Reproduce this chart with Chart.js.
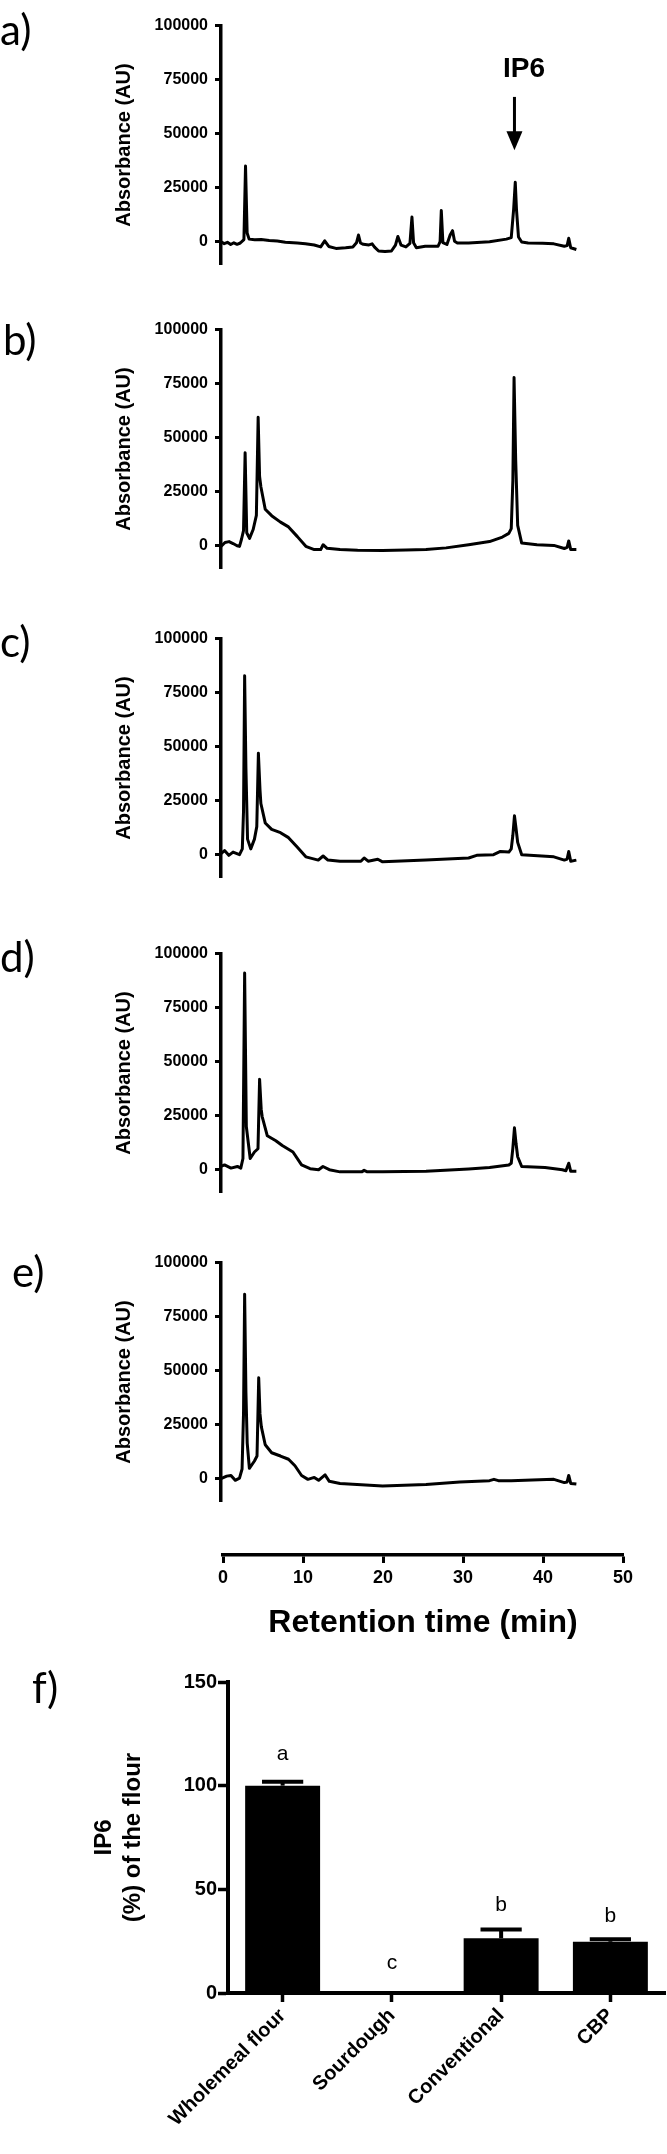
<!DOCTYPE html>
<html>
<head>
<meta charset="utf-8">
<script src="https://cdn.jsdelivr.net/npm/chart.js"></script>
<style>
  body { margin: 0; background: #fff; }
  #figure { position: relative; width: 667px; height: 2154px; background: #fff; }
  #figure canvas { position: absolute; left: 0; }
</style>
</head>
<body>
<div id="figure"></div>
<script>
// chromatograms: [retention time (min), absorbance (AU)]
const traceA = [
  [0, 0], [0.4, -900], [0.8, -300], [1.2, -1300], [1.6, -500], [2.0, -1200], [2.4, -600],
  [2.85, 1000], [3.05, 35000], [3.25, 4000], [3.5, 1200], [4.2, 900], [5.0, 1000], [6.0, 600],
  [7.0, 300], [8.0, -200], [9.5, -600], [10.5, -900], [11.6, -1500], [12.4, -2400], [12.9, 400],
  [13.4, -2200], [14.3, -3100], [15.5, -2800], [16.4, -2400], [16.85, -500], [17.1, 3100],
  [17.35, -600], [17.7, -1200], [18.4, -1500], [18.8, -1000], [19.1, -2500], [19.6, -4300],
  [20.4, -4500], [21.2, -4300], [21.7, -1600], [22.0, 2400], [22.4, -1600], [23.0, -2400],
  [23.5, -800], [23.75, 11400], [23.95, -500], [24.3, -2800], [25.4, -2100], [27.0, -2100],
  [27.25, 0], [27.4, 14400], [27.6, -400], [28.1, -1300], [28.5, 3100], [28.8, 5100],
  [29.05, 200], [29.4, -600], [30.8, -600], [33.4, 0], [35.5, 1200], [36.1, 1900],
  [36.4, 15100], [36.6, 27500], [36.75, 15000], [37.0, 2200], [37.4, -150], [38.2, -600],
  [40.0, -700], [41.4, -1000], [42.7, -2100], [43.05, -1800], [43.25, 1600], [43.5, -2800],
  [44.2, -3600]
];

const traceB = [
  [0, -300], [0.5, 1500], [1.0, 1900], [1.5, 1000], [2.0, 0], [2.3, -300], [2.55, 3000],
  [2.8, 7000], [3.0, 43000], [3.2, 6000], [3.55, 3400], [4.0, 7500], [4.4, 14000],
  [4.62, 59400], [4.8, 32000], [4.96, 27300], [5.5, 16900], [6.3, 13900], [7.4, 10900],
  [8.4, 8700], [9.5, 4200], [10.55, -300], [11.6, -1800], [12.4, -1800], [12.7, 450],
  [13.2, -1200], [14.8, -1800], [17.0, -2100], [20.1, -2200], [23.0, -2000], [25.5, -1800],
  [28.0, -1000], [30.8, 450], [33.4, 1900], [35.0, 4000], [35.8, 5700], [36.1, 7900],
  [36.3, 30000], [36.45, 77800], [36.65, 40000], [36.9, 9400], [37.4, 1200], [39.3, 450],
  [41.4, 150], [42.7, -1300], [43.05, -800], [43.25, 2200], [43.5, -1800], [44.2, -1800]
];

const traceC = [
  [0, 450], [0.44, 1900], [0.97, -300], [1.5, 1200], [2.3, 0], [2.65, 2700], [2.8, 20000],
  [2.94, 82800], [3.1, 40000], [3.3, 7200], [3.7, 2700], [4.16, 7200], [4.45, 13000],
  [4.65, 46900], [4.85, 30000], [4.96, 23700], [5.5, 14700], [6.3, 11700], [7.4, 10200],
  [8.4, 7900], [9.5, 3400], [10.55, -1000], [12.1, -2500], [12.7, -600], [13.3, -2500],
  [14.8, -3000], [17.4, -3000], [17.8, -1500], [18.3, -3000], [19.5, -2100], [20.1, -3300],
  [25.5, -2500], [30.8, -1500], [31.8, -300], [33.9, 0], [34.75, 1500], [35.8, 1200],
  [36.1, 2700], [36.3, 9000], [36.5, 18000], [36.7, 12000], [36.9, 5700], [37.4, 0],
  [41.4, -1000], [42.7, -2500], [43.05, -2000], [43.25, 1500], [43.5, -3000], [44.2, -2500]
];

const traceD = [
  [0, 1500], [0.44, 2200], [1.24, 750], [2.04, 1500], [2.46, 750], [2.73, 5200],
  [2.94, 91000], [3.15, 20000], [3.63, 5200], [4.16, 8200], [4.6, 9700], [4.8, 41800],
  [5.0, 28000], [5.12, 24600], [5.76, 15700], [6.82, 13400], [7.62, 11200], [8.95, 8200],
  [10.02, 2200], [11.08, 450], [12.14, 0], [12.68, 1500], [13.47, 0], [14.8, -1000],
  [17.5, -1000], [17.8, -300], [18.2, -1000], [20.1, -1000], [25.5, -750], [30.8, 300],
  [33.4, 1000], [35.8, 2200], [36.1, 3000], [36.3, 10000], [36.5, 19400], [36.7, 12000],
  [36.9, 6000], [37.4, 1500], [40.3, 1000], [42.46, 0], [42.9, -450], [43.25, 3000],
  [43.5, -750], [44.2, -750]
];

const traceE = [
  [0, 0], [0.71, 1200], [1.24, 1500], [1.77, -750], [2.3, 300], [2.62, 4500], [2.8, 30000],
  [2.94, 85300], [3.1, 40000], [3.26, 16500], [3.53, 4800], [4.16, 8200], [4.48, 10500],
  [4.69, 46700], [4.85, 30000], [5.02, 24000], [5.5, 15700], [6.3, 12000], [7.4, 10500],
  [8.4, 9000], [9.2, 6000], [10.02, 1500], [10.81, -300], [11.6, 600], [12.14, -750],
  [12.94, 1800], [13.47, -1200], [14.8, -2200], [20.1, -3400], [25.5, -2700], [29.7, -1500],
  [33.4, -900], [33.95, -300], [34.5, -900], [36.1, -900], [38.7, -600], [41.4, -300],
  [42.7, -1800], [43.05, -1500], [43.25, 1500], [43.5, -2200], [44.2, -2500]
];

const absTicks = [0, 25000, 50000, 75000, 100000];
const timeTicks = [0, 10, 20, 30, 40, 50];

// IP6 marker on panel a
const ip6ArrowTime = 36.5;
const ip6ArrowTop = 67000;
const ip6ArrowTip = 42300;
const ip6LabelTime = 37.7;
const ip6LabelValue = 79700;

// bar chart f
const breadTypes = ["Wholemeal flour", "Sourdough", "Conventional", "CBP"];
const ip6Mean = [100, 0, 26.4, 24.7];
const ip6Sem = [1.9, 0, 4.2, 1.2];
const sigLetters = ["a", "c", "b", "b"];
const sigLetterPos = [115, 14.5, 42.5, 37];
const percentTicks = [0, 50, 100, 150];

const panels = [
  { letter: "a)", trace: traceA, top: 24, letterX: 0, letterDy: 19 },
  { letter: "b)", trace: traceB, top: 328, letterX: 3, letterDy: 25 },
  { letter: "c)", trace: traceC, top: 637, letterX: 0, letterDy: 18 },
  { letter: "d)", trace: traceD, top: 952, letterX: 0, letterDy: 18 },
  { letter: "e)", trace: traceE, top: 1261, letterX: 12, letterDy: 24 },
];

const BLACK = "#000";
const FONT = "'Liberation Sans', Arial, sans-serif";

Chart.defaults.font.family = FONT;
Chart.defaults.color = BLACK;

Chart.register({
  id: "panelLabel",
  afterDraw(chart, args, opts) {
    if (!opts.text) return;
    const ctx = chart.ctx;
    ctx.save();
    ctx.font = "42px Lato, 'Open Sans', sans-serif";
    ctx.fillStyle = BLACK;
    ctx.textBaseline = "alphabetic";
    ctx.fillText(opts.text, opts.x, chart.chartArea.top + opts.dy);
    ctx.restore();
  },
});

const arrowPlugin = {
  id: "ip6Arrow",
  afterDatasetsDraw(chart) {
    const { ctx, scales } = chart;
    const ax = scales.x.getPixelForValue(ip6ArrowTime);
    const yTop = scales.y.getPixelForValue(ip6ArrowTop);
    const yTip = scales.y.getPixelForValue(ip6ArrowTip);

    ctx.save();
    ctx.strokeStyle = BLACK;
    ctx.fillStyle = BLACK;
    ctx.lineWidth = 3;
    ctx.beginPath();
    ctx.moveTo(ax, yTop);
    ctx.lineTo(ax, yTip - 16);
    ctx.stroke();

    ctx.beginPath();
    ctx.moveTo(ax - 8, yTip - 19);
    ctx.lineTo(ax + 8, yTip - 19);
    ctx.lineTo(ax, yTip);
    ctx.closePath();
    ctx.fill();

    ctx.font = "bold 28px " + FONT;
    ctx.textAlign = "center";
    ctx.textBaseline = "middle";
    ctx.fillText(
      "IP6",
      scales.x.getPixelForValue(ip6LabelTime),
      scales.y.getPixelForValue(ip6LabelValue)
    );
    ctx.restore();
  },
};

const errorBarPlugin = {
  id: "errorBars",
  afterDatasetsDraw(chart) {
    const { ctx, scales } = chart;
    const bars = chart.getDatasetMeta(0).data;

    ctx.save();
    ctx.strokeStyle = BLACK;
    ctx.fillStyle = BLACK;
    ctx.lineWidth = 4;

    bars.forEach((bar, i) => {
      if (ip6Sem[i] > 0) {
        const base = scales.y.getPixelForValue(ip6Mean[i]);
        const top = scales.y.getPixelForValue(ip6Mean[i] + ip6Sem[i]);
        const capHalf = bar.width * 0.275;
        ctx.beginPath();
        ctx.moveTo(bar.x, base);
        ctx.lineTo(bar.x, top);
        ctx.stroke();
        ctx.beginPath();
        ctx.moveTo(bar.x - capHalf, top);
        ctx.lineTo(bar.x + capHalf, top);
        ctx.stroke();
      }

      ctx.font = "21px " + FONT;
      ctx.textAlign = "center";
      ctx.textBaseline = "middle";
      ctx.fillText(sigLetters[i], bar.x, scales.y.getPixelForValue(sigLetterPos[i]));
    });

    ctx.restore();
  },
};

function addCanvas(top, height) {
  const canvas = document.createElement("canvas");
  canvas.width = 667;
  canvas.height = height;
  canvas.style.top = top + "px";
  canvas.style.width = "667px";
  canvas.style.height = height + "px";
  document.getElementById("figure").appendChild(canvas);
  return canvas;
}

const baseOptions = {
  responsive: false,
  animation: false,
  devicePixelRatio: 1,
  events: [],
};

function makeTrace(panel) {
  const canvas = addCanvas(panel.top - 15, 272);

  return new Chart(canvas, {
    type: "line",
    data: {
      datasets: [
        {
          data: panel.trace.map((p) => ({ x: p[0], y: p[1] })),
          borderColor: BLACK,
          borderWidth: 3,
          pointRadius: 0,
          tension: 0,
          borderJoinStyle: "round",
          fill: false,
        },
      ],
    },
    options: {
      ...baseOptions,
      layout: { padding: { top: 15, bottom: 12, left: 0, right: 44 } },
      plugins: {
        legend: { display: false },
        tooltip: { enabled: false },
        panelLabel: { text: panel.letter, x: panel.letterX, dy: panel.letterDy },
      },
      scales: {
        x: { type: "linear", min: 0, max: 50, display: false },
        y: {
          min: -10500,
          max: 100000,
          afterBuildTicks: (scale) => {
            scale.ticks = absTicks.map((v) => ({ value: v }));
          },
          afterFit: (scale) => {
            scale.width = 221;
          },
          grid: { drawOnChartArea: false, tickLength: 6, tickWidth: 3, color: BLACK },
          border: { display: true, width: 3.5, color: BLACK },
          ticks: {
            color: BLACK,
            padding: 7,
            font: { size: 16, weight: "bold" },
            callback: (v) => String(v),
          },
          title: {
            display: true,
            text: "Absorbance (AU)",
            color: BLACK,
            font: { size: 20, weight: "bold" },
            padding: { top: 112, bottom: 0 },
          },
        },
      },
    },
    plugins: panel.letter === "a)" ? [arrowPlugin] : [],
  });
}

panels.forEach(makeTrace);

// shared retention time axis
const axisCanvas = addCanvas(1540, 110);
new Chart(axisCanvas, {
  type: "line",
  data: { datasets: [] },
  options: {
    ...baseOptions,
    layout: { padding: { top: 0, bottom: 0, left: 223, right: 44 } },
    plugins: { legend: { display: false }, tooltip: { enabled: false } },
    scales: {
      x: {
        type: "linear",
        min: 0,
        max: 50,
        afterBuildTicks: (scale) => {
          scale.ticks = timeTicks.map((v) => ({ value: v }));
        },
        afterFit: (scale) => {
          scale.height = 95;
        },
        grid: { drawOnChartArea: false, tickLength: 8, tickWidth: 3, color: BLACK },
        border: { display: true, width: 3.5, color: BLACK },
        ticks: { color: BLACK, padding: 4, maxRotation: 0, font: { size: 18, weight: "bold" } },
        title: {
          display: true,
          text: "Retention time (min)",
          color: BLACK,
          font: { size: 32, weight: "bold" },
          padding: { top: 0, bottom: 8 },
        },
      },
      y: { display: false },
    },
  },
});

// panel f: IP6 retained in bread
const barCanvas = addCanvas(1667, 487);
new Chart(barCanvas, {
  type: "bar",
  data: {
    labels: breadTypes,
    datasets: [
      {
        data: ip6Mean,
        backgroundColor: BLACK,
        borderWidth: 0,
        barPercentage: 0.686,
        categoryPercentage: 1,
      },
    ],
  },
  options: {
    ...baseOptions,
    layout: { padding: { top: 15, bottom: 0, left: 0, right: 2 } },
    plugins: {
      legend: { display: false },
      tooltip: { enabled: false },
      panelLabel: { text: "f)", x: 32, dy: 21 },
    },
    scales: {
      x: {
        afterFit: (scale) => {
          scale.height = 161;
        },
        grid: { offset: false, drawOnChartArea: false, tickLength: 9, tickWidth: 3.5, color: BLACK },
        border: { display: true, width: 4, color: BLACK },
        ticks: {
          color: BLACK,
          autoSkip: false,
          maxRotation: 45,
          minRotation: 45,
          padding: 2,
          font: { size: 20, weight: "bold" },
        },
      },
      y: {
        min: 0,
        max: 150,
        afterBuildTicks: (scale) => {
          scale.ticks = percentTicks.map((v) => ({ value: v }));
        },
        afterFit: (scale) => {
          scale.width = 228;
        },
        grid: { drawOnChartArea: false, tickLength: 10, tickWidth: 3.5, color: BLACK },
        border: { display: true, width: 4, color: BLACK },
        ticks: { color: BLACK, padding: 1, font: { size: 20, weight: "bold" } },
        title: {
          display: true,
          text: ["IP6", "(%) of the flour"],
          color: BLACK,
          font: { size: 24, weight: "bold" },
          padding: { top: 90, bottom: 0 },
        },
      },
    },
  },
  plugins: [errorBarPlugin],
});
</script>
</body>
</html>
